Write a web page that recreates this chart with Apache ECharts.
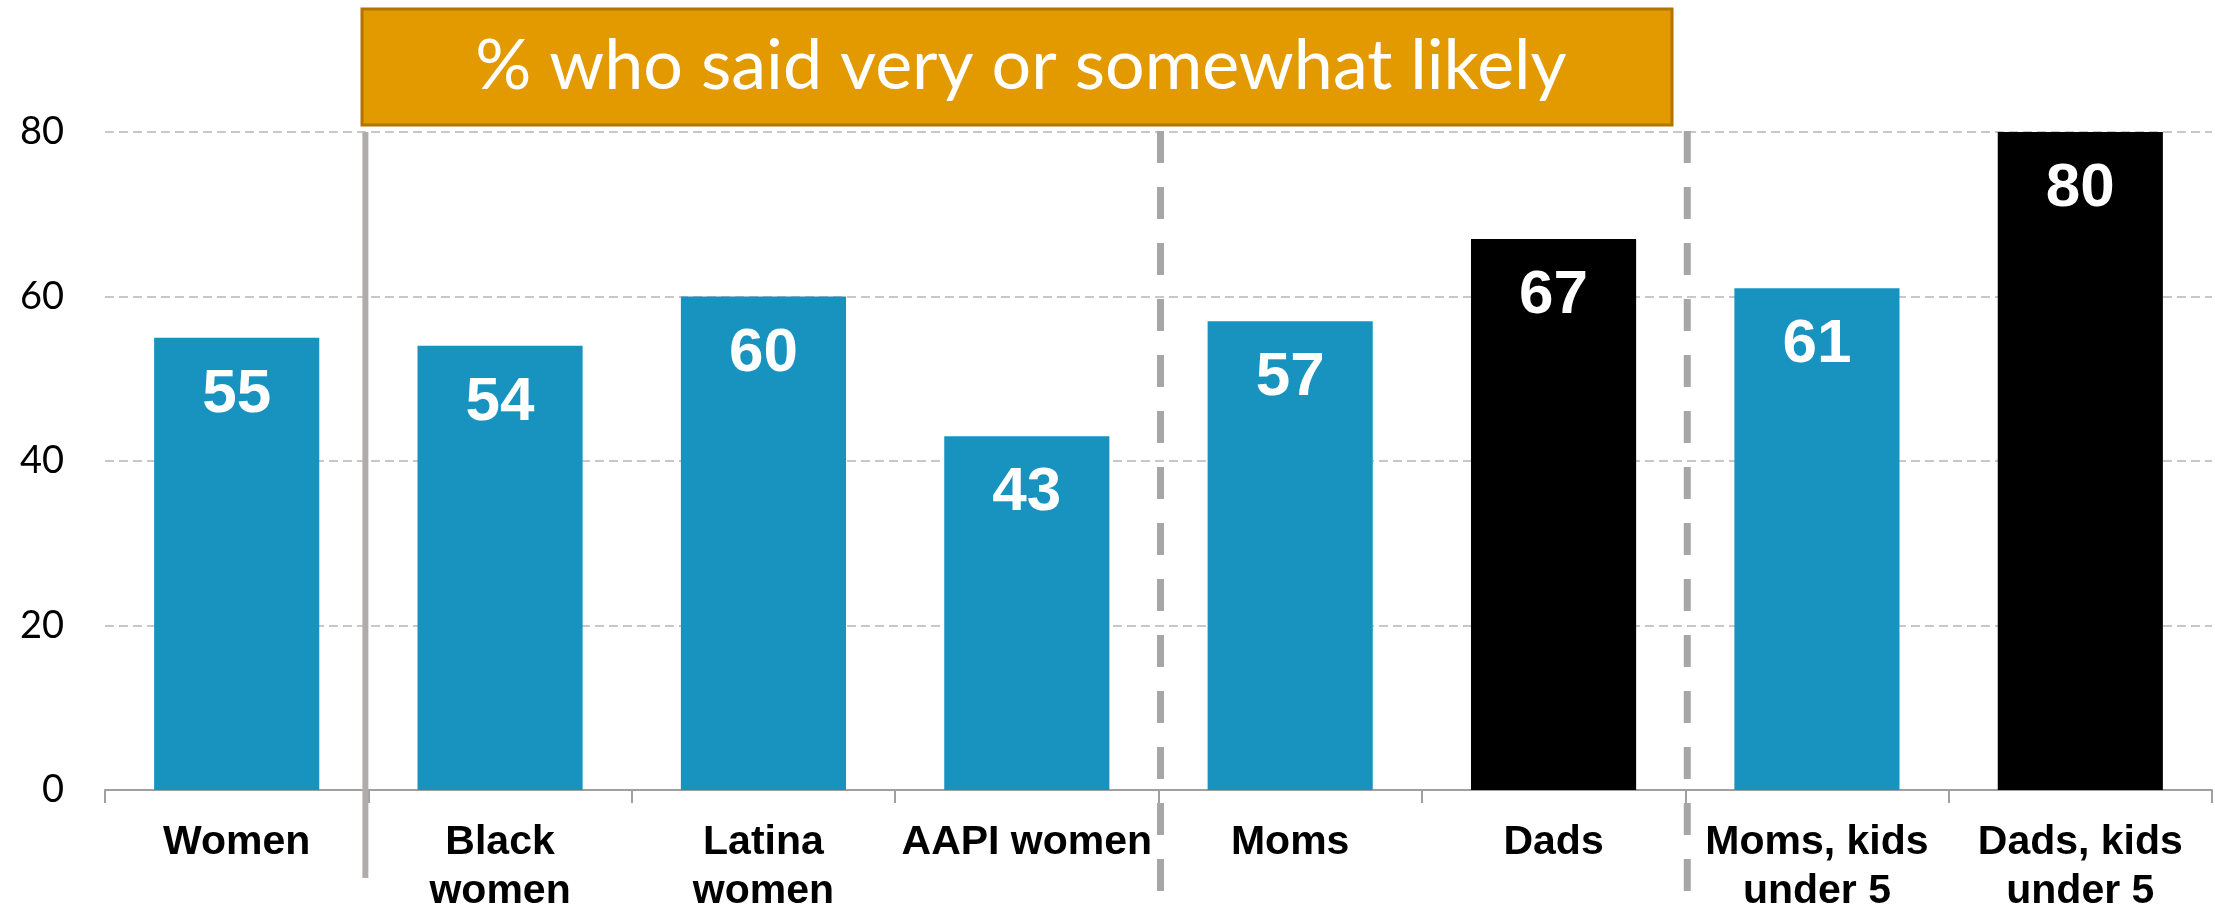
<!DOCTYPE html>
<html><head><meta charset="utf-8">
<script src="https://cdn.jsdelivr.net/npm/echarts@6/dist/echarts.min.js"></script>
<style>html,body{margin:0;padding:0;background:#fff}#c{width:2215px;height:916px}</style>
</head><body><div id="c"></div>
<script>
const categories = ['Women', 'Black\nwomen', 'Latina\nwomen', 'AAPI women', 'Moms', 'Dads', 'Moms, kids\nunder 5', 'Dads, kids\nunder 5'];
const values = [55, 54, 60, 43, 57, 67, 61, 80];
const groups = ['F', 'F', 'F', 'F', 'F', 'M', 'F', 'M'];
const yTicks = [0, 20, 40, 60, 80];
const titleText = '% who said very or somewhat likely';
// separators: boundary index (before category i), style
const separators = [{at: 1, type: 'solid'}, {at: 4, type: 'dashed'}, {at: 6, type: 'dashed'}];

const colorMap = {F: '#1893C0', M: '#000000'};

const chart = echarts.init(document.getElementById('c'), null, {renderer: 'canvas'});
const option = {
  animation: false,
  backgroundColor: '#ffffff',
  grid: {left: 105, right: 3, top: 132, bottom: 126, containLabel: false},
  xAxis: {
    type: 'category',
    data: categories,
    axisLine: {lineStyle: {color: '#A0A0A0', width: 2}},
    axisTick: {show: true, length: 13, lineStyle: {color: '#A0A0A0', width: 2}},
    axisLabel: {interval: 0, color: '#000', fontFamily: 'Liberation Sans, Arial', fontWeight: 'bold', fontSize: 41, lineHeight: 49, margin: 28}
  },
  yAxis: {
    type: 'value', min: yTicks[0], max: yTicks[yTicks.length - 1], interval: 20,
    axisLine: {show: false}, axisTick: {show: false},
    axisLabel: {color: '#000', fontFamily: 'Lato', fontSize: 38, margin: 41},
    splitLine: {lineStyle: {color: '#C8C8C8', width: 2, type: [9, 5]}}
  },
  series: [{
    type: 'bar',
    barWidth: '62.7%',
    data: values.map((v, i) => ({value: v, itemStyle: {color: colorMap[groups[i]]}})),
    label: {show: true, position: 'insideTop', distance: 26, color: '#fff', fontFamily: 'Liberation Sans, Arial', fontWeight: 'bold', fontSize: 62}
  }]
};
chart.setOption(option);

function drawExtras() {
  const y80 = chart.convertToPixel({yAxisIndex: 0}, yTicks[yTicks.length - 1]);
  const y0 = chart.convertToPixel({yAxisIndex: 0}, yTicks[0]);
  const els = [];
  separators.forEach(s => {
    const xa = chart.convertToPixel({xAxisIndex: 0}, categories[s.at - 1]);
    const xb = chart.convertToPixel({xAxisIndex: 0}, categories[s.at]);
    const x = (xa + xb) / 2;
    if (s.type === 'solid') {
      els.push({type: 'line', z: 10, shape: {x1: x - 3, y1: y80, x2: x - 3, y2: y0 + 88},
        style: {stroke: '#B0ACAC', lineWidth: 6}});
    } else {
      els.push({type: 'line', z: 10, shape: {x1: x + 2, y1: y80 - 1, x2: x + 2, y2: y0 + 101},
        style: {stroke: '#A6A6A6', lineWidth: 7, lineDash: [32, 24]}});
    }
  });
  els.push({type: 'rect', z: 20, shape: {x: 362, y: 9, width: 1310, height: 116},
    style: {fill: '#E39A00', stroke: '#B07400', lineWidth: 3}});
  els.push({type: 'text', z: 21, x: 1021, y: 66,
    style: {text: titleText, fill: '#fff', font: '70px Lato', align: 'center', verticalAlign: 'middle'}});
  chart.setOption({graphic: els});
}
drawExtras();
</script></body></html>
